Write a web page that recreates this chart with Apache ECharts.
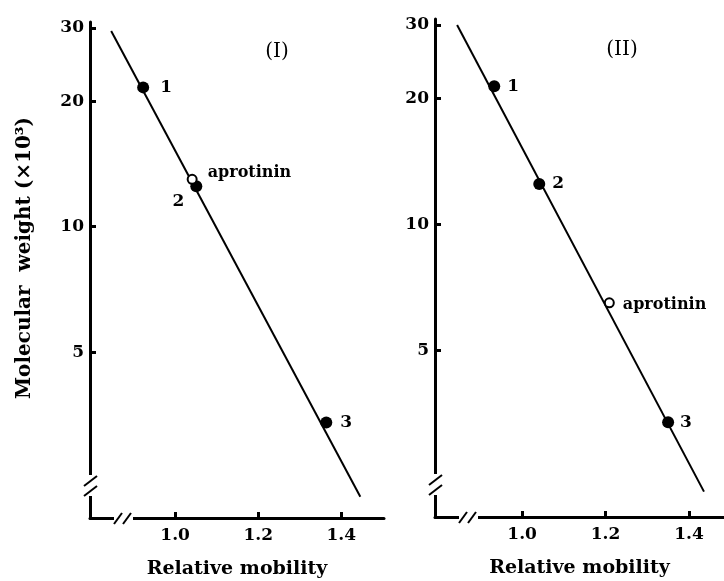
<!DOCTYPE html>
<html>
<head>
<meta charset="utf-8">
<script src="https://cdn.jsdelivr.net/npm/echarts@6/dist/echarts.min.js"></script>
<style>
  html, body { margin: 0; padding: 0; background: #fff; }
  #chart { width: 724px; height: 581px; }
</style>
</head>
<body>
<div id="chart"></div>
<script>
// markers 1..3 (relative mobility, MW x10^3)
const markerLabels = ['1', '2', '3']
const mobilityI = [0.923, 1.051, 1.364]
const weightI = [21.6, 12.5, 3.39]
const mobilityII = [0.933, 1.041, 1.350]
const weightII = [21.4, 12.5, 3.37]
// aprotinin (open circle)
const aprotininI = [1.041, 13.0]
const aprotininII = [1.209, 6.5]
// fitted lines, end points
const lineI = [[0.846, 29.5], [1.446, 2.25]]
const lineII = [[0.844, 30.0], [1.436, 2.30]]
// tick labels
const xTicks = [1.0, 1.2, 1.4]
const yTicks = [5, 10, 20, 30]

const FONT = '"DejaVu Serif", "Liberation Serif", serif'
const chart = echarts.init(document.getElementById('chart'))

const grids = [
  { left: 90, top: 22, width: 294, height: 496, outerBoundsMode: 'none' },
  { left: 435, top: 19, width: 289, height: 498, outerBoundsMode: 'none' }
]

function xAxisFor (idx, min, max) {
  return {
    gridIndex: idx,
    type: 'value',
    min: min,
    max: max,
    name: 'Relative mobility',
    nameLocation: 'middle',
    nameGap: 42,
    nameTextStyle: { fontFamily: FONT, fontWeight: 'bold', fontSize: 19, color: '#000' },
    splitLine: { show: false },
    axisLine: { lineStyle: { color: '#000', width: 3 } },
    axisTick: { inside: true, length: 6, lineStyle: { color: '#000', width: 3 }, customValues: xTicks },
    axisLabel: {
      margin: 9,
      fontFamily: FONT, fontWeight: 'bold', fontSize: 17, color: '#000',
      customValues: xTicks,
      formatter: v => v.toFixed(1)
    }
  }
}

function yAxisFor (idx) {
  return {
    gridIndex: idx,
    type: 'log',
    logBase: 10,
    min: 2,
    max: 31,
    splitLine: { show: false },
    axisLine: { lineStyle: { color: '#000', width: 3 } },
    axisTick: { inside: true, length: 6, lineStyle: { color: '#000', width: 3 }, customValues: yTicks },
    axisLabel: {
      margin: 6,
      fontFamily: FONT, fontWeight: 'bold', fontSize: 17, color: '#000',
      customValues: yTicks,
      formatter: v => String(Math.round(v))
    }
  }
}

function labelStyle (extra) {
  return Object.assign({
    show: true,
    fontFamily: FONT,
    fontWeight: 'bold',
    fontSize: 17,
    color: '#000'
  }, extra)
}

function panelSeries (idx, mob, wt, apro, line, labelOpts) {
  const pts = mob.map((m, i) => ({
    value: [m, wt[i]],
    label: labelStyle(labelOpts[i])
  }))
  return [
    {
      type: 'line',
      xAxisIndex: idx,
      yAxisIndex: idx,
      data: line,
      symbol: 'none',
      silent: true,
      lineStyle: { color: '#000', width: 2 },
      z: 2
    },
    {
      type: 'scatter',
      xAxisIndex: idx,
      yAxisIndex: idx,
      data: pts,
      symbol: 'circle',
      symbolSize: 12,
      itemStyle: { color: '#000', opacity: 1 },
      label: { formatter: p => markerLabels[p.dataIndex] },
      z: 3
    },
    {
      type: 'scatter',
      xAxisIndex: idx,
      yAxisIndex: idx,
      data: [{ value: apro }],
      symbol: 'circle',
      symbolSize: 9,
      itemStyle: { color: '#fff', borderColor: '#000', borderWidth: 2, opacity: 1 },
      label: labelStyle({ position: 'right', distance: idx === 0 ? 10 : 8, offset: [0, idx === 0 ? -6 : 2], fontSize: 16, formatter: 'aprotinin' }),
      z: 4
    }
  ]
}

const seriesI = panelSeries(0, mobilityI, weightI, aprotininI, lineI, [
  { position: 'right', distance: 11 },
  { position: 'left', distance: 6, offset: [0, 15] },
  { position: 'right', distance: 8 }
])
const seriesII = panelSeries(1, mobilityII, weightII, aprotininII, lineII, [
  { position: 'right', distance: 7 },
  { position: 'right', distance: 7 },
  { position: 'right', distance: 6 }
])

// axis break marks (two slashes on each axis, near the origin)
function breakMarks (g) {
  const x0 = g.left
  const yb = g.top + g.height
  const lineSt = { stroke: '#000', lineWidth: 2 }
  return [
    // gap on y axis
    { type: 'rect', shape: { x: x0 - 3, y: yb - 43, width: 6, height: 21 }, style: { fill: '#fff' }, z: 100 },
    { type: 'line', shape: { x1: x0 - 6, y1: yb - 32, x2: x0 + 7, y2: yb - 42 }, style: lineSt, z: 101 },
    { type: 'line', shape: { x1: x0 - 6, y1: yb - 22, x2: x0 + 7, y2: yb - 32 }, style: lineSt, z: 101 },
    // gap on x axis
    { type: 'rect', shape: { x: x0 + 24, y: yb - 3, width: 19, height: 6 }, style: { fill: '#fff' }, z: 100 },
    { type: 'line', shape: { x1: x0 + 24, y1: yb + 6, x2: x0 + 32, y2: yb - 5 }, style: lineSt, z: 101 },
    { type: 'line', shape: { x1: x0 + 33, y1: yb + 6, x2: x0 + 41, y2: yb - 5 }, style: lineSt, z: 101 }
  ]
}

const option = {
  animation: false,
  backgroundColor: '#fff',
  grid: grids,
  xAxis: [xAxisFor(0, 0.795, 1.503), xAxisFor(1, 0.791, 1.484)],
  yAxis: [yAxisFor(0), yAxisFor(1)],
  series: seriesI.concat(seriesII),
  graphic: [
    {
      type: 'text',
      x: 25,
      y: 258,
      rotation: Math.PI / 2,
      style: {
        text: 'Molecular  weight (×10³)',
        fontFamily: FONT,
        fontWeight: 'bold',
        fontSize: 20,
        fill: '#000',
        align: 'center',
        verticalAlign: 'middle'
      }
    },
    {
      type: 'text', x: 277, y: 52,
      style: { text: '(I)', fontFamily: FONT, fontSize: 20, fill: '#000', align: 'center', verticalAlign: 'middle' }
    },
    {
      type: 'text', x: 622, y: 50,
      style: { text: '(II)', fontFamily: FONT, fontSize: 20, fill: '#000', align: 'center', verticalAlign: 'middle' }
    }
  ].concat(breakMarks(grids[0]), breakMarks(grids[1]))
}

chart.setOption(option)
</script>
</body>
</html>
